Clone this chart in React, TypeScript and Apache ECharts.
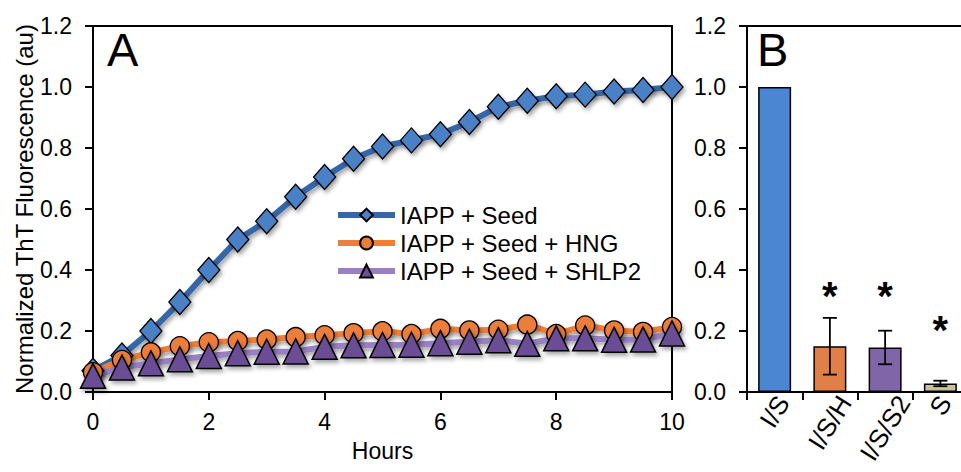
import React, { useEffect, useRef } from 'react';
import * as echarts from 'echarts';

// ---------- data ----------
const hours = [0, 0.5, 1, 1.5, 2, 2.5, 3, 3.5, 4, 4.5, 5, 5.5, 6, 6.5, 7, 7.5, 8, 8.5, 9, 9.5, 10];
const iappSeed = [0.07, 0.12, 0.2, 0.295, 0.4, 0.5, 0.56, 0.64, 0.705, 0.765, 0.805, 0.825, 0.845, 0.885, 0.935, 0.955, 0.97, 0.975, 0.985, 0.99, 1.0];
const iappSeedHNG = [0.065, 0.105, 0.13, 0.15, 0.163, 0.167, 0.172, 0.18, 0.186, 0.193, 0.199, 0.19, 0.207, 0.202, 0.204, 0.221, 0.19, 0.218, 0.202, 0.197, 0.213];
const iappSeedSHLP2 = [0.053, 0.08, 0.094, 0.107, 0.118, 0.127, 0.132, 0.133, 0.148, 0.153, 0.154, 0.155, 0.16, 0.165, 0.17, 0.158, 0.176, 0.176, 0.171, 0.172, 0.192];
const seriesNames = ['IAPP + Seed', 'IAPP + Seed + HNG', 'IAPP + Seed + SHLP2'];

const barCategories = ['I/S', 'I/S/H', 'I/S/S2', 'S'];
const barValues = [1.0, 0.15, 0.146, 0.028];
const barErrors = [0, 0.093, 0.055, 0.009];
const sigLevels = [null, 0.33, 0.33, 0.22];

const yMin = 0;
const yMax = 1.2;
const yStep = 0.2;
const xMin = 0;
const xMax = 10;
const xStep = 2;

// ---------- styles ----------
const FONT = "'Liberation Sans', Arial, sans-serif";
const barColors = ['#4a86d2', '#e08046', '#8066a8', '#c9c39a'];
const LABEL_ROT = 58;
const LABEL_FS = 26;
const LABEL_PAD = 1;

const shadow = { shadowColor: 'rgba(0,0,0,0.35)', shadowBlur: 4, shadowOffsetX: 2, shadowOffsetY: 3 };

function measure(text: string, fs: number): number {
  const c = document.createElement('canvas').getContext('2d');
  if (!c) return text.length * fs * 0.55;
  c.font = `${fs}px ${FONT}`;
  return c.measureText(text).width;
}

export default function App() {
  const ref = useRef<HTMLDivElement>(null);

  useEffect(() => {
    if (!ref.current) return;
    const chart = echarts.init(ref.current, undefined, { renderer: 'svg' });

    const axisLineStyle = { color: '#000', width: 2 };
    const rad = (LABEL_ROT * Math.PI) / 180;
    const labelWidths = barCategories.map((c) => measure(c, LABEL_FS));

    const option: any = {
      animation: false,
      textStyle: { fontFamily: FONT },
      title: [
        { text: 'A', left: 107, top: 26, padding: 0, textStyle: { fontSize: 47, fontWeight: 'normal', color: '#000', fontFamily: FONT } },
        { text: 'B', left: 757, top: 26, padding: 0, textStyle: { fontSize: 47, fontWeight: 'normal', color: '#000', fontFamily: FONT } },
      ],
      legend: {
        data: seriesNames,
        orient: 'vertical',
        left: 335,
        top: 203,
        padding: 0,
        itemWidth: 57,
        itemHeight: 16,
        itemGap: 4,
        lineStyle: { width: 6 },
        textStyle: { fontSize: 24, color: '#000', fontFamily: FONT },
        selectedMode: false,
      },
      grid: [
        { left: 93, top: 26, width: 579, height: 366, show: true, borderColor: '#000', borderWidth: 2, outerBoundsMode: 'none' },
        { left: 747, top: 26, width: 221, height: 366, show: true, borderColor: '#000', borderWidth: 2, outerBoundsMode: 'none' },
      ],
      xAxis: [
        {
          type: 'value',
          gridIndex: 0,
          min: xMin,
          max: xMax,
          interval: xStep,
          name: 'Hours',
          nameLocation: 'middle',
          nameGap: 47,
          nameTextStyle: { fontSize: 23, color: '#000', fontFamily: FONT },
          axisLine: { show: true, lineStyle: axisLineStyle },
          axisTick: { show: true, length: 8, lineStyle: axisLineStyle },
          axisLabel: { fontSize: 23, color: '#000', margin: 18, fontFamily: FONT },
          splitLine: { show: false },
        },
        {
          type: 'category',
          gridIndex: 1,
          data: barCategories,
          axisLine: { show: true, lineStyle: axisLineStyle },
          axisTick: { show: true, length: 8, lineStyle: axisLineStyle },
          axisLabel: { show: false },
          splitLine: { show: false },
        },
      ],
      yAxis: [
        {
          type: 'value',
          gridIndex: 0,
          min: yMin,
          max: yMax,
          interval: yStep,
          name: 'Normalized ThT Fluorescence (au)',
          nameLocation: 'middle',
          nameRotate: 90,
          nameGap: 57,
          nameMoveOverlap: false,
          nameTextStyle: { fontSize: 24, color: '#000', fontFamily: FONT },
          axisLine: { show: true, lineStyle: axisLineStyle },
          axisTick: { show: true, length: 8, lineStyle: axisLineStyle },
          axisLabel: { fontSize: 23, color: '#000', margin: 21, fontFamily: FONT, formatter: (v: number) => v.toFixed(1) },
          splitLine: { show: false },
        },
        {
          type: 'value',
          gridIndex: 1,
          min: yMin,
          max: yMax,
          interval: yStep,
          axisLine: { show: true, lineStyle: axisLineStyle },
          axisTick: { show: true, length: 8, lineStyle: axisLineStyle },
          axisLabel: { fontSize: 23, color: '#000', margin: 21, fontFamily: FONT, formatter: (v: number) => v.toFixed(1) },
          splitLine: { show: false },
        },
      ],
      series: [
        {
          name: seriesNames[0],
          type: 'line',
          xAxisIndex: 0,
          yAxisIndex: 0,
          data: hours.map((h, i) => [h, iappSeed[i]]),
          symbol: 'diamond',
          symbolSize: [22, 25],
          clip: false,
          lineStyle: { color: '#3566a8', width: 6, ...shadow },
          itemStyle: { color: '#4a80c6', borderColor: '#000', borderWidth: 1.3, ...shadow },
          emphasis: { disabled: true },
        },
        {
          name: seriesNames[1],
          type: 'line',
          xAxisIndex: 0,
          yAxisIndex: 0,
          data: hours.map((h, i) => [h, iappSeedHNG[i]]),
          symbol: 'circle',
          symbolSize: 19,
          clip: false,
          lineStyle: { color: '#ee7f38', width: 6, ...shadow },
          itemStyle: { color: '#ec7d3a', borderColor: '#000', borderWidth: 1.3, ...shadow },
          emphasis: { disabled: true },
        },
        {
          name: seriesNames[2],
          type: 'line',
          xAxisIndex: 0,
          yAxisIndex: 0,
          data: hours.map((h, i) => [h, iappSeedSHLP2[i]]),
          symbol: 'triangle',
          symbolSize: [25, 25],
          clip: false,
          lineStyle: { color: '#9a7fc4', width: 6, ...shadow },
          itemStyle: { color: '#6b4e95', borderColor: '#000', borderWidth: 1.5, ...shadow },
          emphasis: { disabled: true },
        },
        {
          type: 'bar',
          xAxisIndex: 1,
          yAxisIndex: 1,
          barWidth: 33,
          data: barValues.map((v, i) => ({ value: v, itemStyle: { color: barColors[i] } })),
          itemStyle: { borderColor: '#000', borderWidth: 1.5 },
          emphasis: { disabled: true },
        },
        {
          type: 'custom',
          xAxisIndex: 1,
          yAxisIndex: 1,
          encode: { x: 0, y: [1, 2] },
          data: barValues
            .map((v, i) => [i, v - barErrors[i], v + barErrors[i], barErrors[i]])
            .filter((d) => d[3] > 0),
          renderItem: (params: any, api: any) => {
            const idx = api.value(0);
            const lo = api.coord([idx, api.value(1)]);
            const hi = api.coord([idx, api.value(2)]);
            const cap = 7;
            const st = { stroke: '#000', lineWidth: 1.8 };
            return {
              type: 'group',
              children: [
                { type: 'line', shape: { x1: hi[0], y1: hi[1], x2: lo[0], y2: lo[1] }, style: st },
                { type: 'line', shape: { x1: hi[0] - cap, y1: hi[1], x2: hi[0] + cap, y2: hi[1] }, style: st },
                { type: 'line', shape: { x1: lo[0] - cap, y1: lo[1], x2: lo[0] + cap, y2: lo[1] }, style: st },
              ],
            };
          },
          z: 5,
        },
        {
          type: 'custom',
          xAxisIndex: 1,
          yAxisIndex: 1,
          encode: { x: 0, y: 1 },
          data: sigLevels.map((v, i) => [i, v]).filter((d) => d[1] != null),
          renderItem: (params: any, api: any) => {
            const p = api.coord([api.value(0), api.value(1)]);
            return {
              type: 'text',
              x: p[0],
              y: p[1] + 5,
              style: {
                text: '*',
                fontSize: 40,
                fontWeight: 'bold',
                fontFamily: FONT,
                fill: '#000',
                align: 'center',
                verticalAlign: 'middle',
              },
            };
          },
          z: 5,
        },
        {
          // rotated category labels of panel B, centred under each bar
          type: 'custom',
          xAxisIndex: 1,
          yAxisIndex: 1,
          clip: false,
          encode: { x: 0, y: 1 },
          data: barCategories.map((c, i) => [i, 0]),
          renderItem: (params: any, api: any) => {
            const i = api.value(0);
            const p = api.coord([i, 0]);
            const w = labelWidths[i];
            const h = LABEL_FS * 0.72;
            const ext = w * Math.sin(rad) + h * Math.cos(rad);
            return {
              type: 'text',
              x: p[0],
              y: p[1] + LABEL_PAD + ext / 2,
              rotation: rad,
              style: {
                text: barCategories[i],
                fontSize: LABEL_FS,
                fontFamily: FONT,
                fill: '#000',
                align: 'center',
                verticalAlign: 'middle',
              },
            };
          },
          z: 5,
        },
      ],
    };

    chart.setOption(option);
    return () => chart.dispose();
  }, []);

  return <div ref={ref} style={{ position: 'fixed', left: 0, top: 0, width: 961, height: 472, background: '#fff' }} />;
}
